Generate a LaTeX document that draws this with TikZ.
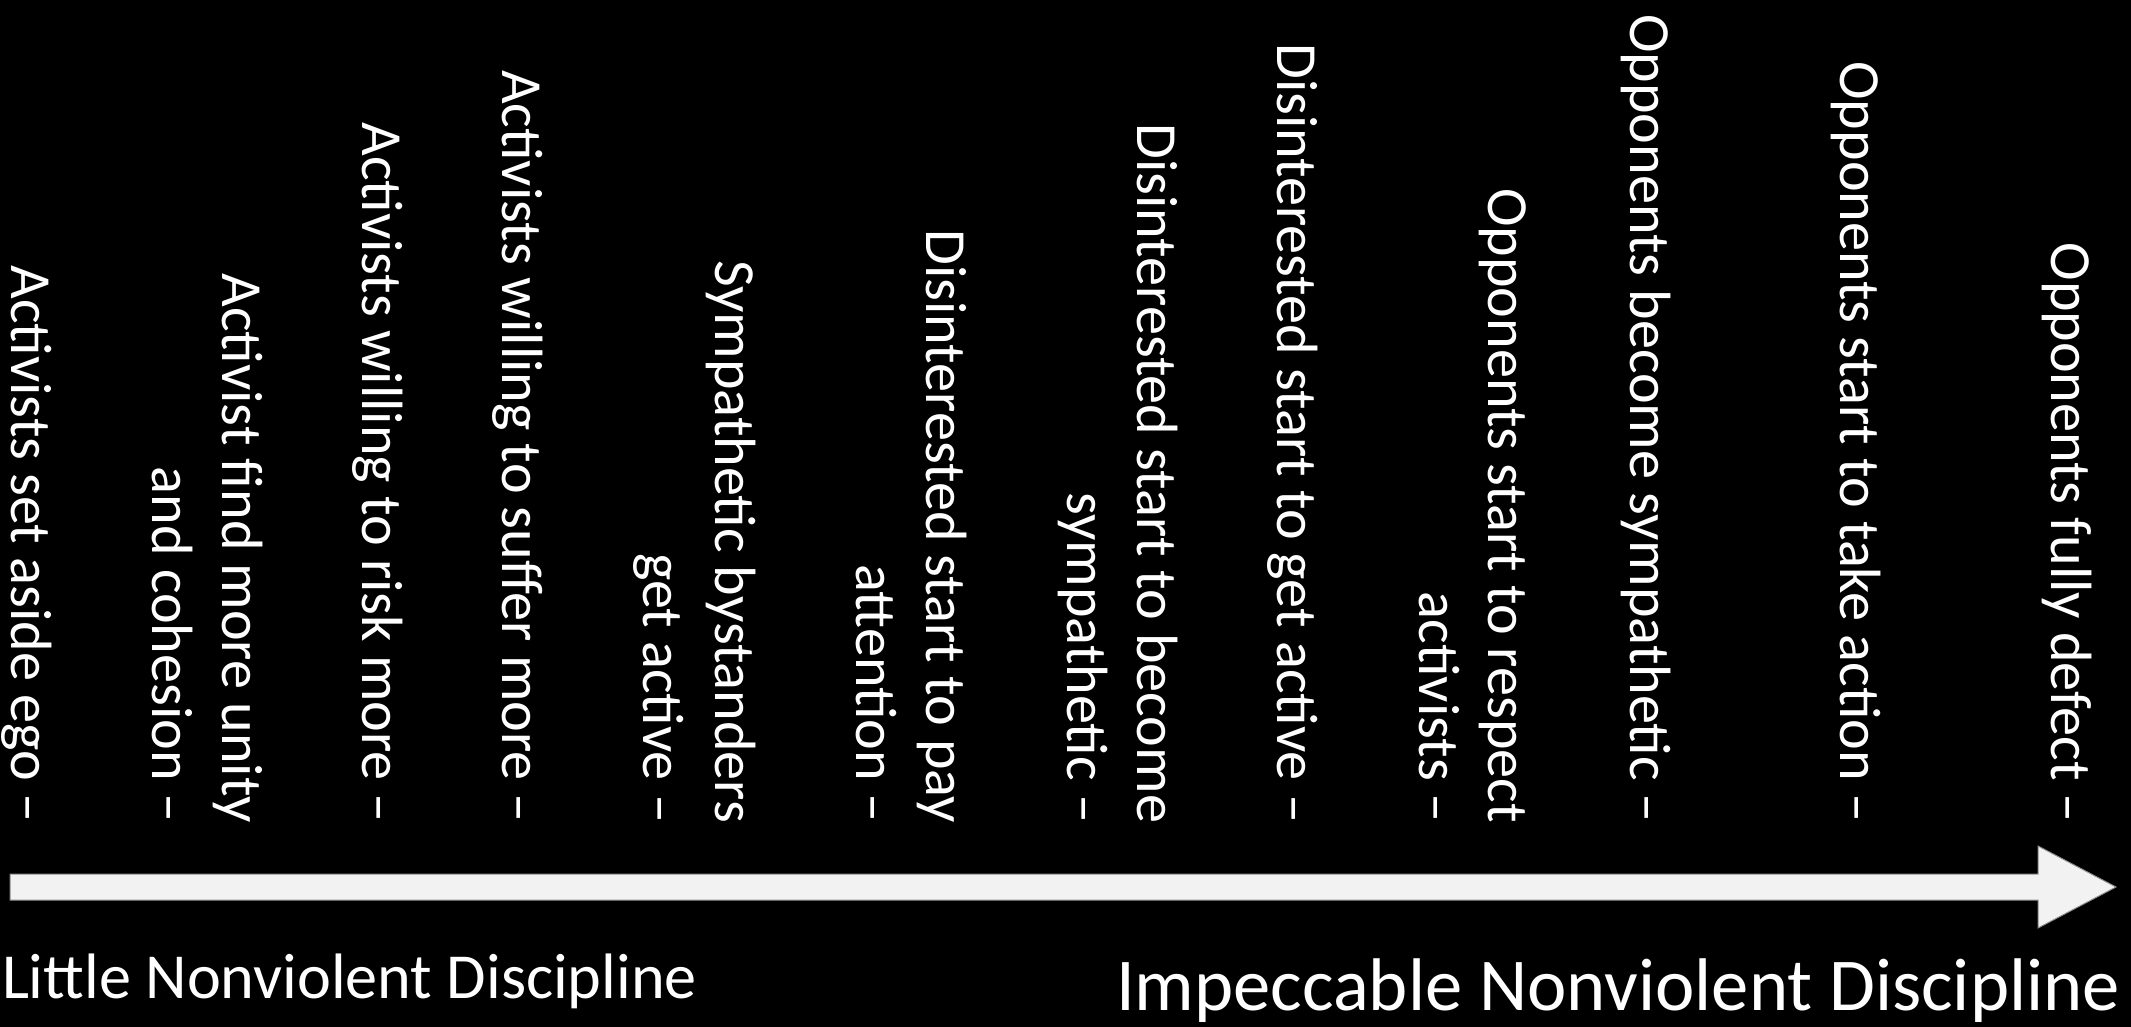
\documentclass[tikz,border=0pt]{standalone}
\usepackage{fontspec}
\setmainfont{Carlito}
\begin{document}
\begin{tikzpicture}[x=1pt,y=-1pt,
  vlab/.style={rotate=-90, anchor=base east, inner sep=0pt, outer sep=0pt, text=white,
    font=\fontsize{58.2}{70}\selectfont},
  endlab/.style={inner sep=0pt, outer sep=0pt, text=white},
  bararrow/.style={fill=arrowfill, draw=arrowedge, line width=1pt}]
\definecolor{arrowfill}{HTML}{F2F2F2}
\definecolor{arrowedge}{HTML}{8C8C8C}
\fill[black] (0,0) rectangle (2131,1027);
\useasboundingbox (0,0) rectangle (2131,1027);
% block arrow
\coordinate (s1) at (10,874);
\coordinate (s2) at (2038,874);
\coordinate (h1) at (2038,846);
\coordinate (tip) at (2116,887);
\coordinate (h2) at (2038,928);
\coordinate (s3) at (2038,900);
\coordinate (s4) at (10,900);
\draw[bararrow] (s1) -- (s2) -- (h1) -- (tip) -- (h2) -- (s3) -- (s4) -- cycle;
% vertical labels
\def\yend{823}
\node[vlab] (l1)  at (11,\yend)   {Activists set aside ego –};
\node[vlab] (l2a) at (222,\yend)  {Activist find more unity};
\node[vlab] (l2b) at (152,\yend)  {and cohesion –};
\node[vlab] (l3)  at (362,\yend)  {Activists willing to risk more –};
\node[vlab] (l4)  at (502,\yend)  {Activists willing to suffer more –};
\node[vlab] (l5a) at (715,\yend)  {Sympathetic bystanders};
\node[vlab] (l5b) at (643,\yend)  {get active –};
\node[vlab] (l6a) at (926,\yend)  {Disinterested start to pay};
\node[vlab] (l6b) at (856,\yend)  {attention –};
\node[vlab] (l7a) at (1137,\yend) {Disinterested start to become};
\node[vlab] (l7b) at (1067,\yend) {sympathetic –};
\node[vlab] (l8)  at (1277,\yend) {Disinterested start to get active –};
\node[vlab] (l9a) at (1488,\yend) {Opponents start to respect};
\node[vlab] (l9b) at (1419,\yend) {activists –};
\node[vlab] (l10) at (1630,\yend) {Opponents become sympathetic –};
\node[vlab] (l11) at (1840,\yend) {Opponents start to take action –};
\node[vlab] (l12) at (2051,\yend) {Opponents fully defect –};
% end labels
\node[endlab, anchor=base west, font=\fontsize{64.2}{77}\selectfont] (little) at (2,998) {Little Nonviolent Discipline};
\node[endlab, anchor=base east, font=\fontsize{74.6}{90}\selectfont] (impec) at (2120,1010) {Impeccable Nonviolent Discipline};
\end{tikzpicture}
\end{document}
